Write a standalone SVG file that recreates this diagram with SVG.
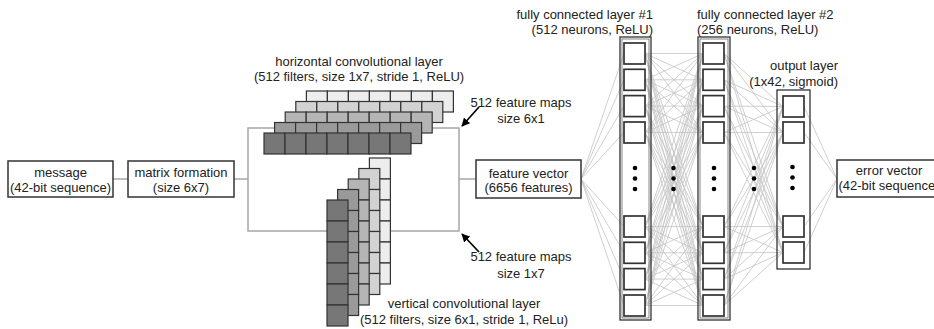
<svg xmlns="http://www.w3.org/2000/svg" width="934" height="329" viewBox="0 0 934 329">
<style>
text{font-family:"Liberation Sans",Arial,sans-serif;font-size:13px;fill:#222}
.m{text-anchor:middle}
.e{text-anchor:end}
.box{fill:#fff;stroke:#333;stroke-width:1.5}
.gl{fill:none;stroke:#a6a6a6;stroke-width:1.5}
.nl{stroke:#c4c4c4;stroke-width:0.8;fill:none}
.c0{fill:#777;stroke:#333;stroke-width:1.2}
.c1{fill:#9a9a9a;stroke:#333;stroke-width:1.2}
.c2{fill:#b5b5b5;stroke:#333;stroke-width:1.2}
.c3{fill:#d2d2d2;stroke:#333;stroke-width:1.2}
.c4{fill:#ededed;stroke:#333;stroke-width:1.2}
.lay{fill:none;stroke:#333;stroke-width:1.3}
.lay2{fill:none;stroke:#666;stroke-width:0.8}
.n{fill:#fff;stroke:#333;stroke-width:1.7}
.dot{fill:#000}
.arr{stroke:#000;stroke-width:1.7;fill:none}
</style>
<defs>
<marker id="ah" viewBox="0 0 10 10" refX="9" refY="5" markerWidth="5" markerHeight="5" orient="auto" markerUnits="strokeWidth">
<path d="M0,0 L10,5 L0,10 z" fill="#000"/>
</marker>
<g id="hrow">
<rect x="0" y="0" width="21" height="21"/><rect x="21" y="0" width="21" height="21"/><rect x="42" y="0" width="21" height="21"/><rect x="63" y="0" width="21" height="21"/><rect x="84" y="0" width="21" height="21"/><rect x="105" y="0" width="21" height="21"/><rect x="126" y="0" width="21" height="21"/>
</g>
<g id="vcol">
<rect x="0" y="0" width="21" height="21"/><rect x="0" y="21" width="21" height="21"/><rect x="0" y="42" width="21" height="21"/><rect x="0" y="63" width="21" height="21"/><rect x="0" y="84" width="21" height="21"/><rect x="0" y="105" width="21" height="21"/>
</g>
</defs>
<rect width="934" height="329" fill="#fff"/>

<g id="connectors">
<line class="gl" x1="113" y1="179" x2="128" y2="179"/>
<line class="gl" x1="234" y1="179" x2="248" y2="179"/>
<rect class="gl" x="248" y="128" width="211" height="103"/>
<line class="gl" x1="459" y1="179" x2="476" y2="179"/>
<g class="nl">
<line x1="581" y1="179" x2="624" y2="53.5"/><line x1="581" y1="179" x2="624" y2="79.8"/><line x1="581" y1="179" x2="624" y2="106.1"/><line x1="581" y1="179" x2="624" y2="132.5"/>
<line x1="581" y1="179" x2="624" y2="226.5"/><line x1="581" y1="179" x2="624" y2="252.8"/><line x1="581" y1="179" x2="624" y2="279.1"/><line x1="581" y1="179" x2="624" y2="305.5"/>
<path d="M645,53.5L703,53.5M645,53.5L703,79.8M645,53.5L703,106.1M645,53.5L703,132.5M645,53.5L703,226.5M645,53.5L703,252.8M645,53.5L703,279.1M645,53.5L703,305.5"/>
<path d="M645,79.8L703,53.5M645,79.8L703,79.8M645,79.8L703,106.1M645,79.8L703,132.5M645,79.8L703,226.5M645,79.8L703,252.8M645,79.8L703,279.1M645,79.8L703,305.5"/>
<path d="M645,106.1L703,53.5M645,106.1L703,79.8M645,106.1L703,106.1M645,106.1L703,132.5M645,106.1L703,226.5M645,106.1L703,252.8M645,106.1L703,279.1M645,106.1L703,305.5"/>
<path d="M645,132.5L703,53.5M645,132.5L703,79.8M645,132.5L703,106.1M645,132.5L703,132.5M645,132.5L703,226.5M645,132.5L703,252.8M645,132.5L703,279.1M645,132.5L703,305.5"/>
<path d="M645,226.5L703,53.5M645,226.5L703,79.8M645,226.5L703,106.1M645,226.5L703,132.5M645,226.5L703,226.5M645,226.5L703,252.8M645,226.5L703,279.1M645,226.5L703,305.5"/>
<path d="M645,252.8L703,53.5M645,252.8L703,79.8M645,252.8L703,106.1M645,252.8L703,132.5M645,252.8L703,226.5M645,252.8L703,252.8M645,252.8L703,279.1M645,252.8L703,305.5"/>
<path d="M645,279.1L703,53.5M645,279.1L703,79.8M645,279.1L703,106.1M645,279.1L703,132.5M645,279.1L703,226.5M645,279.1L703,252.8M645,279.1L703,279.1M645,279.1L703,305.5"/>
<path d="M645,305.5L703,53.5M645,305.5L703,79.8M645,305.5L703,106.1M645,305.5L703,132.5M645,305.5L703,226.5M645,305.5L703,252.8M645,305.5L703,279.1M645,305.5L703,305.5"/>
<path d="M724,53.5L783,106.5M724,53.5L783,132.5M724,53.5L783,226.5M724,53.5L783,252.5"/>
<path d="M724,79.8L783,106.5M724,79.8L783,132.5M724,79.8L783,226.5M724,79.8L783,252.5"/>
<path d="M724,106.1L783,106.5M724,106.1L783,132.5M724,106.1L783,226.5M724,106.1L783,252.5"/>
<path d="M724,132.5L783,106.5M724,132.5L783,132.5M724,132.5L783,226.5M724,132.5L783,252.5"/>
<path d="M724,226.5L783,106.5M724,226.5L783,132.5M724,226.5L783,226.5M724,226.5L783,252.5"/>
<path d="M724,252.8L783,106.5M724,252.8L783,132.5M724,252.8L783,226.5M724,252.8L783,252.5"/>
<path d="M724,279.1L783,106.5M724,279.1L783,132.5M724,279.1L783,226.5M724,279.1L783,252.5"/>
<path d="M724,305.5L783,106.5M724,305.5L783,132.5M724,305.5L783,226.5M724,305.5L783,252.5"/>
<path d="M804,106.5L837,179M804,132.5L837,179M804,226.5L837,179M804,252.5L837,179"/>
</g>
<line class="arr" x1="479" y1="107" x2="462" y2="126" marker-end="url(#ah)"/>
<line class="arr" x1="479" y1="252" x2="462" y2="234" marker-end="url(#ah)"/>
</g>

<g id="message">
<rect class="box" x="8" y="161" width="105" height="36"/>
<text class="m" x="60.5" y="176.5">message</text>
<text class="m" x="60.5" y="191.5">(42-bit sequence)</text>
</g>

<g id="matrix">
<rect class="box" x="128" y="161" width="106" height="36"/>
<text class="m" x="181" y="176.5">matrix formation</text>
<text class="m" x="181" y="191.5">(size 6x7)</text>
</g>

<g id="hconv">
<text class="m" x="359" y="65.5">horizontal convolutional layer</text>
<text class="m" x="359" y="81">(512 filters, size 1x7, stride 1, ReLU)</text>
<use href="#hrow" class="c4" x="306.4" y="91"/>
<use href="#hrow" class="c3" x="295.8" y="101.5"/>
<use href="#hrow" class="c2" x="285.2" y="112"/>
<use href="#hrow" class="c1" x="274.6" y="122.5"/>
<use href="#hrow" class="c0" x="264" y="133"/>
<text class="m" x="521" y="106.5">512 feature maps</text>
<text class="m" x="521" y="123">size 6x1</text>
</g>

<g id="vconv">
<use href="#vcol" class="c4" x="369.4" y="158"/>
<use href="#vcol" class="c3" x="358.8" y="168.5"/>
<use href="#vcol" class="c2" x="348.2" y="179"/>
<use href="#vcol" class="c1" x="337.6" y="189.5"/>
<use href="#vcol" class="c0" x="327" y="200"/>
<text class="m" x="521" y="261">512 feature maps</text>
<text class="m" x="521" y="277.5">size 1x7</text>
<text class="m" x="464" y="308">vertical convolutional layer</text>
<text class="m" x="464" y="324">(512 filters, size 6x1, stride 1, ReLu)</text>
</g>

<g id="feature">
<rect class="box" x="476" y="160" width="105" height="38"/>
<text class="m" x="528.5" y="177.5">feature vector</text>
<text class="m" x="528.5" y="192">(6656 features)</text>
</g>

<g id="fc1">
<text class="e" x="653" y="18.5">fully connected layer #1</text>
<text class="e" x="653" y="34">(512 neurons, ReLU)</text>
<rect class="lay" x="620" y="37" width="31" height="283"/>
<rect class="lay2" x="622" y="39" width="27" height="279"/>
<rect class="n" x="624" y="43" width="21" height="21"/>
<rect class="n" x="624" y="69.3" width="21" height="21"/>
<rect class="n" x="624" y="95.6" width="21" height="21"/>
<rect class="n" x="624" y="122" width="21" height="21"/>
<rect class="n" x="624" y="216" width="21" height="21"/>
<rect class="n" x="624" y="242.3" width="21" height="21"/>
<rect class="n" x="624" y="268.6" width="21" height="21"/>
<rect class="n" x="624" y="295" width="21" height="21"/>
<circle class="dot" cx="635" cy="168" r="2.3"/><circle class="dot" cx="635" cy="178.5" r="2.3"/><circle class="dot" cx="635" cy="189" r="2.3"/>
</g>

<g id="dots12">
<circle class="dot" cx="673.5" cy="168" r="2.3"/><circle class="dot" cx="673.5" cy="178.5" r="2.3"/><circle class="dot" cx="673.5" cy="189" r="2.3"/>
</g>

<g id="fc2">
<text x="697" y="18.5">fully connected layer #2</text>
<text x="697" y="34">(256 neurons, ReLU)</text>
<rect class="lay" x="698" y="37" width="32" height="283"/>
<rect class="lay2" x="700" y="39" width="28" height="279"/>
<rect class="n" x="703" y="43" width="21" height="21"/>
<rect class="n" x="703" y="69.3" width="21" height="21"/>
<rect class="n" x="703" y="95.6" width="21" height="21"/>
<rect class="n" x="703" y="122" width="21" height="21"/>
<rect class="n" x="703" y="216" width="21" height="21"/>
<rect class="n" x="703" y="242.3" width="21" height="21"/>
<rect class="n" x="703" y="268.6" width="21" height="21"/>
<rect class="n" x="703" y="295" width="21" height="21"/>
<circle class="dot" cx="714" cy="168" r="2.3"/><circle class="dot" cx="714" cy="178.5" r="2.3"/><circle class="dot" cx="714" cy="189" r="2.3"/>
</g>

<g id="dots2o">
<circle class="dot" cx="754" cy="168" r="2.3"/><circle class="dot" cx="754" cy="178.5" r="2.3"/><circle class="dot" cx="754" cy="189" r="2.3"/>
</g>

<g id="output">
<text class="e" x="838" y="70">output layer</text>
<text class="e" x="838" y="86">(1x42, sigmoid)</text>
<rect class="lay" x="777" y="90" width="33" height="179"/>
<rect class="n" x="783" y="96" width="21" height="21"/>
<rect class="n" x="783" y="122" width="21" height="21"/>
<rect class="n" x="783" y="216" width="21" height="21"/>
<rect class="n" x="783" y="242" width="21" height="21"/>
<circle class="dot" cx="792.5" cy="167" r="2.3"/><circle class="dot" cx="792.5" cy="177.5" r="2.3"/><circle class="dot" cx="792.5" cy="188" r="2.3"/>
</g>

<g id="error">
<rect class="box" x="837" y="160" width="110" height="37"/>
<text class="m" x="889" y="175">error vector</text>
<text class="m" x="889" y="190">(42-bit sequence)</text>
</g>
</svg>
